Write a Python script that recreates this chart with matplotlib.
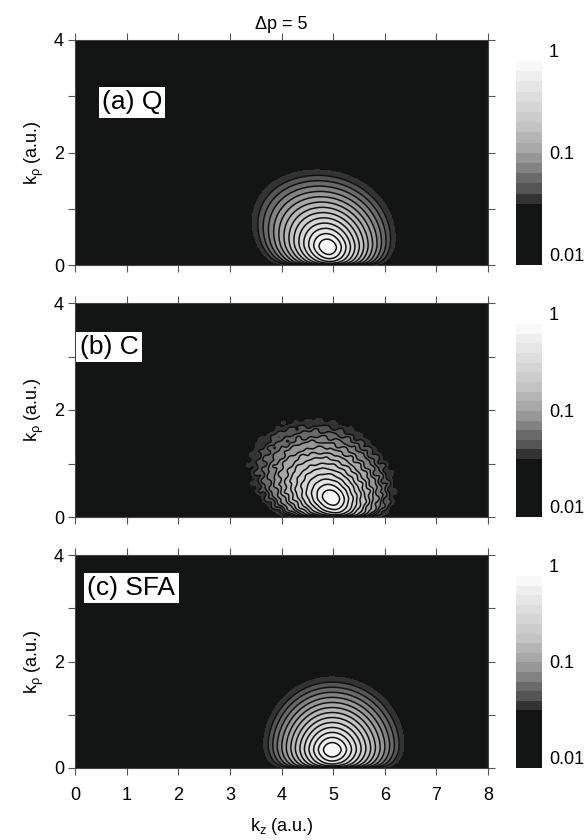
"""Three-panel log-scale momentum distributions (Q / C / SFA), delta p = 5."""

import numpy as np
import matplotlib
matplotlib.use("Agg")
import matplotlib.pyplot as plt
from matplotlib.colors import ListedColormap

plt.rcParams["font.family"] = ["Liberation Sans", "DejaVu Sans"]
plt.rcParams["mathtext.fontset"] = "custom"
plt.rcParams["mathtext.rm"] = "Liberation Sans"
plt.rcParams["mathtext.it"] = "Liberation Sans:italic"

# ── data ──
panel_labels = ["(a) Q", "(b) C", "(c) SFA"]
label_x = [0.52, 0.09, 0.24]
label_y = [2.89, 3.18, 3.38]
peak_kz = [4.90, 4.97, 4.98]        # kz of the maximum
peak_krho = [0.32, 0.36, 0.34]      # k_rho of the maximum
top_krho = [1.69, 1.81, 1.71]       # highest k_rho where signal reaches 0.04
half_left = [1.23, 1.25, 1.20]      # kz half-extent (0.04 level), low side
half_right = [1.17, 1.10, 1.26]     # kz half-extent (0.04 level), high side
widen = [0.33, 0.33, 0.15]          # growth of the kz extent with k_rho
tilt = [-0.153, -0.25, 0.0]         # kz drift of the lobe per unit k_rho
ripple = [0.0, 0.03, 0.0]           # jaggedness of the classical result

levels = np.logspace(-2, 0, 21)
band_colors = ["#131515"] * 6 + [
    "#333333", "#555555", "#6a6a6a", "#828282", "#979797", "#a8a8a8", "#b5b5b5",
    "#c3c3c3", "#cccccc", "#d5d5d5", "#dddddd", "#e6e6e6", "#eeeeee", "#f8f8f8",
]
cbar_ticks = [0.01, 0.1, 1]
cbar_ticklabels = ["0.01", "0.1", "1"]
xticks = [0, 1, 2, 3, 4, 5, 6, 7, 8]
yticks = [0, 1, 2, 3, 4]
yticklabels = ["0", "", "2", "", "4"]

W, H = 585, 840
panel_px = [(40, 265), (303, 517), (555, 768)]
AX_L, AX_R = 75, 488
CB_L, CB_R = 516, 542

P_EXP = 0.3      # k_rho^p suppression near the axis
U0 = 0.1         # rounding of the peak
Q_RHO = 0.82     # k_rho profile sharpness
EDGE = -np.log(0.0398)


def px_rect(l, r, t, b):
    return [l / W, 1 - b / H, (r - l) / W, (b - t) / H]


def lobe(kz, kr, i):
    rp = peak_krho[i]
    x = np.maximum(kr, 1e-9) / rp
    low = P_EXP * (np.log(x) - x + 1)
    # radial scale chosen so the lobe reaches the 0.04 level at top_krho
    xt = top_krho[i] / rp
    ue = (EDGE + P_EXP * (np.log(xt) - xt + 1)) / EDGE
    ut = np.sqrt((ue + U0) ** 2 - U0 ** 2)
    hr = (top_krho[i] - rp) / ut ** (1 / Q_RHO)
    ur = (np.abs(kr - rp) / hr) ** Q_RHO
    z0 = peak_kz[i] + tilt[i] * (kr - rp)
    dz = kz - z0
    hz = np.where(dz < 0, half_left[i], half_right[i]) * (1 + widen[i] * (kr - rp))
    uz = dz / hz
    u = np.sqrt(uz ** 2 + ur ** 2)
    if ripple[i]:
        wob = (np.sin(26 * kz + 5 * kr + 1.0) * np.sin(19 * kr + 2.0)
               + 0.7 * np.sin(33 * kr - 12 * kz + 0.5))
        u = u * (1 + ripple[i] * wob * np.clip(u * 1.5, 0, 1))
    ueff = np.sqrt(u ** 2 + U0 ** 2) - U0
    f = np.exp(low - EDGE * ueff)
    return np.clip(f, 1e-8, 0.999)


kz = np.linspace(0, 8, 801)
kr = np.linspace(0, 4, 601)
KZ, KR = np.meshgrid(kz, kr)
cmap = ListedColormap(band_colors)

fig = plt.figure(figsize=(W / 100, H / 100), dpi=100)

for i, (t, b) in enumerate(panel_px):
    ax = fig.add_axes(px_rect(AX_L, AX_R, t, b))
    Z = lobe(KZ, KR, i)
    ax.contourf(KZ, KR, Z, levels=levels, colors=band_colors, extend="min")
    ax.contour(KZ, KR, Z, levels=levels[7:-1], colors="#111111", linewidths=1.1)
    ax.set_facecolor("#131515")
    ax.set_xlim(0, 8)
    ax.set_ylim(0, 4)
    ax.set_xticks(xticks)
    ax.set_yticks(yticks)
    ax.set_yticklabels(yticklabels)
    ax.tick_params(direction="out", length=5, width=0.8, labelsize=13,
                   top=True, right=True, color="#555555", pad=3)
    ax.tick_params(axis="x", pad=9)
    for s in ax.spines.values():
        s.set_color("#444444")
        s.set_linewidth(0.8)
    ax.set_ylabel(r"k$_\mathregular{\rho}$ (a.u.)", fontsize=13)
    ax.yaxis.set_label_coords(-0.07, 0.5)
    ax.text(label_x[i], label_y[i], panel_labels[i], fontsize=19, ha="left",
            va="center", bbox=dict(boxstyle="square,pad=0.12", fc="white", ec="none"))
    if i < 2:
        ax.set_xticklabels([])
    else:
        ax.set_xlabel(r"k$_\mathregular{z}$ (a.u.)", fontsize=13, labelpad=8)
    if i == 0:
        ax.set_title("\u0394p = 5", fontsize=13, pad=8)

    # colorbar drawn as log-spaced bands
    cax = fig.add_axes(px_rect(CB_L, CB_R, t + 21, b))
    cax.pcolormesh([0, 1], levels, np.arange(20).reshape(-1, 1), cmap=cmap,
                   vmin=-0.5, vmax=19.5)
    cax.set_yscale("log")
    cax.set_ylim(0.01, 1)
    cax.set_xticks([])
    cax.yaxis.tick_right()
    cax.set_yticks(cbar_ticks)
    cax.set_yticklabels(cbar_ticklabels, fontsize=13, va="bottom")
    cax.yaxis.set_minor_locator(matplotlib.ticker.NullLocator())
    cax.tick_params(axis="y", length=0, pad=5)
    for s in cax.spines.values():
        s.set_visible(False)

fig.savefig("out.png", dpi=100)
